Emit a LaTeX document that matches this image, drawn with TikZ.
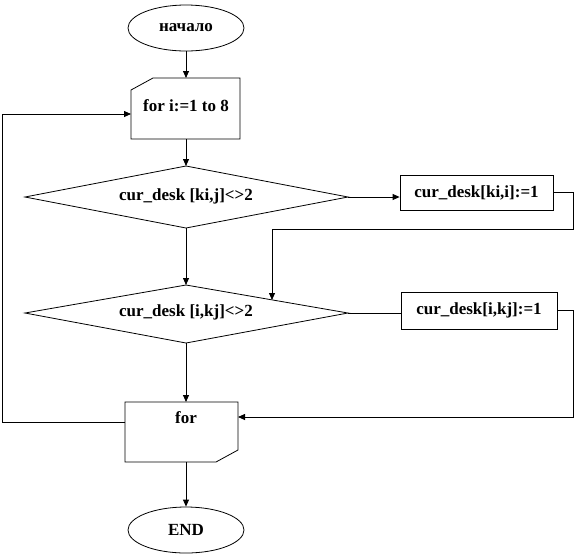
\documentclass[tikz,border=0pt]{standalone}
\usepackage{fontspec}
\setmainfont{Liberation Serif}
\usetikzlibrary{arrows.meta,shapes.geometric}
\begin{document}
\begin{tikzpicture}[x=1pt,y=-1pt,line width=0.8pt,
  arr/.style={-{Triangle[length=7pt,width=6pt]}},
  lbl/.style={font=\fontsize{17}{19}\selectfont\bfseries,inner sep=0pt},
  term/.style={ellipse,draw,minimum width=116pt,minimum height=46pt,inner sep=0pt,font=\fontsize{17}{19}\selectfont\bfseries},
  proc/.style={rectangle,draw,inner sep=0pt,font=\fontsize{17}{19}\selectfont\bfseries}]
\useasboundingbox (0,0) rectangle (575,558);
% terminals
\node[term] (start) at (186,28) {начало};
\node[term] (end) at (186,530) {END};
% loop start box
\draw (131,90) -- (153,78) -- (240,78) -- (240,139) -- (131,139) -- cycle;
\coordinate (lbn) at (186,78);
\coordinate (lbs) at (186,139);
\coordinate (lbw) at (131,114);
\node[lbl] (lbt) at (186,106) {for i:=1 to 8};
% diamond 1
\coordinate (d1w) at (25,197);
\coordinate (d1n) at (186,166);
\coordinate (d1e) at (348,197);
\coordinate (d1s) at (186,228);
\draw (d1w) -- (d1n) -- (d1e) -- (d1s) -- cycle;
\node[lbl] (d1t) at (186,196) {cur\_desk [ki,j]<>2};
% process 1
\node[proc,minimum width=153pt,minimum height=35pt] (p1) at (476.5,192.5) {cur\_desk[ki,i]:=1};
% diamond 2
\coordinate (d2w) at (25,313);
\coordinate (d2n) at (186,285);
\coordinate (d2e) at (348,313);
\coordinate (d2s) at (186,343);
\draw (d2w) -- (d2n) -- (d2e) -- (d2s) -- cycle;
\node[lbl] (d2t) at (186,312) {cur\_desk [i,kj]<>2};
% process 2
\node[proc,minimum width=156pt,minimum height=37pt] (p2) at (479,310.5) {cur\_desk[i,kj]:=1};
% loop end box
\draw (125,402) -- (238,402) -- (238,450) -- (216,462) -- (125,462) -- cycle;
\coordinate (fn) at (186,402);
\coordinate (fs) at (186,462);
\coordinate (fe) at (238,417);
\coordinate (fw) at (125,422);
\node[lbl] (ft) at (186,418) {for};
% helper coordinates
\coordinate (c1) at (573,229);
\coordinate (t1) at (272,300);
\coordinate (c2) at (573,417);
\coordinate (c3) at (2,114);
% connectors
\draw[arr] (start) -- (lbn);
\draw[arr] (lbs) -- (d1n);
\draw[arr] (d1e) -- (p1.west |- d1e);
\draw[arr] (p1.east) -| (c1) -| (t1);
\draw[arr] (d1s) -- (d2n);
\draw (d2e) -- (p2.west |- d2e);
\draw[arr] (p2.east) -| (c2) -- (fe);
\draw[arr] (d2s) -- (fn);
\draw[arr] (fs) -- (end);
\draw[arr] (fw) -| (c3) -- (lbw);
\end{tikzpicture}
\end{document}
